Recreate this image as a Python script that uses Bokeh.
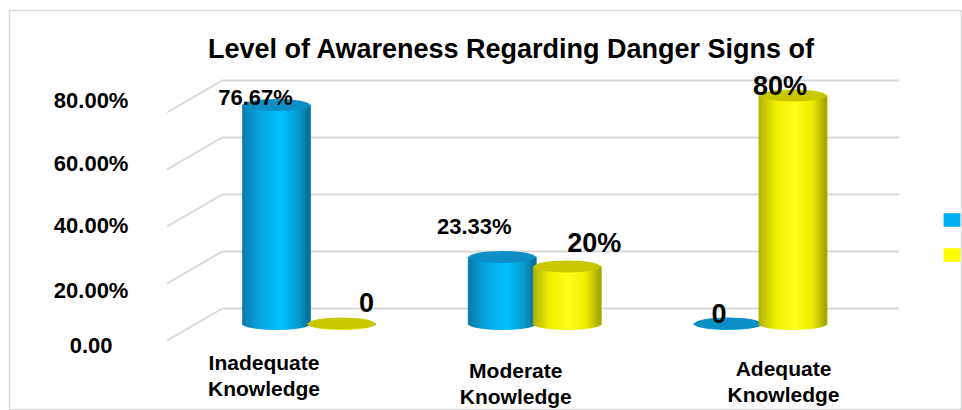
import numpy as np
from bokeh.plotting import figure
from bokeh.models import ColumnDataSource, Range1d, Legend, LegendItem, Label
from bokeh.core.properties import value
from bokeh.embed import file_html
from bokeh.resources import INLINE

# ---------------- data ----------------
categories = ["Inadequate Knowledge", "Moderate Knowledge", "Adequate Knowledge"]
category_lines = [["Inadequate", "Knowledge"], ["Moderate", "Knowledge"], ["Adequate", "Knowledge"]]
series_names = ["Pre-test", "Post-test"]
pre_values = [76.67, 23.33, 0.0]
post_values = [0.0, 20.0, 80.0]
pre_labels = ["76.67%", "23.33%", "0"]
post_labels = ["0", "20%", "80%"]
y_ticks = [0, 20, 40, 60, 80]
y_tick_labels = ["0.00", "20.00%", "40.00%", "60.00%", "80.00%"]
title_text = "Level of Awareness Regarding Danger Signs of"

# ---------------- layout / style ----------------
W, H = 962, 410
BL, BT = 9, 10                       # outer border offsets
PX_X = 225.75                        # px per category
PX_Y = 2.85                          # px per percent
CAT0_PX = 308.5                      # screen x of first category centre
ZERO_PX = 323                        # screen y of 0 on the bar plane
FW, FH = W - BL, H - BT

DXF, DYF = -29 / PX_X, -17 / PX_Y    # front plane offset
DXB, DYB = 26 / PX_X, 15 / PX_Y      # back wall offset
OFF = 32.5 / PX_X                    # series offset inside category
BW = 67 / PX_X                       # cylinder width
EH = 12 / PX_Y                       # ellipse height
NSTRIP = 34
FONT = "Liberation Sans"
GRID = "#d9d9d9"

blue_stops = [(0, "#0b78a9"), (0.2, "#0a9ed6"), (0.58, "#00c2ff"), (0.85, "#0a9acc"), (1, "#0a6c97")]
yellow_stops = [(0, "#b0b000"), (0.25, "#f0f000"), (0.55, "#ffff1a"), (0.8, "#ecec00"), (1, "#a4a400")]
cap_colors = ["#0c8fc6", "#c8c800"]
legend_colors = ["#00b0f0", "#ffff00"]

# label nudges (screen px)
pre_nudge = [(-21, -7), (-28, -31), (-9, -10)]
post_nudge = [(25, -21), (27, -24), (-13, -10)]
pre_sizes = ["22px", "22px", "27px"]
post_sizes = ["27px", "27px", "27px"]
cat_dx = [-45, -19, 23]
cat_dy = [22, 30, 28]
tick_dy = [5, 7, -1, -6, -12]


def hex2rgb(h):
    return np.array([int(h[i:i + 2], 16) for i in (1, 3, 5)], dtype=float)


def grad(stops, u):
    for (t0, c0), (t1, c1) in zip(stops[:-1], stops[1:]):
        if t0 <= u <= t1:
            f = (u - t0) / (t1 - t0)
            c = hex2rgb(c0) * (1 - f) + hex2rgb(c1) * f
            return "#%02x%02x%02x" % tuple(int(round(v)) for v in c)
    return stops[-1][1]


x_start = (BL - CAT0_PX) / PX_X
y_end = (ZERO_PX - BT) / PX_Y

p = figure(width=W, height=H, output_backend="svg", toolbar_location=None,
           x_range=Range1d(x_start, x_start + FW / PX_X),
           y_range=Range1d(y_end - FH / PX_Y, y_end),
           x_axis_location=None, y_axis_location=None,
           min_border_left=BL, min_border_top=BT, min_border_right=0, min_border_bottom=0)
p.xgrid.visible = False
p.ygrid.visible = False
p.outline_line_color = GRID
p.outline_line_width = 1.5
p.background_fill_color = "white"
p.border_fill_color = "white"

# ---------------- walls / gridlines ----------------
xL, xR = -0.5, len(categories) - 0.5
back_xs = [[xL + DXB, xR + DXB] for t in y_ticks]
back_ys = [[t + DYB, t + DYB] for t in y_ticks]
side_xs = [[xL + DXF, xL + DXB] for t in y_ticks]
side_ys = [[t + DYF, t + DYB] for t in y_ticks]
p.multi_line(back_xs + side_xs, back_ys + side_ys, line_color=GRID, line_width=2)

# ---------------- cylinders ----------------
legend_renderers = []
for s, (vals, stops, cap, sign) in enumerate([(pre_values, blue_stops, cap_colors[0], -1),
                                              (post_values, yellow_stops, cap_colors[1], 1)]):
    sx, bot, top, col = [], [], [], []
    cx = []
    for i, v in enumerate(vals):
        c = i + sign * OFF
        cx.append(c)
        for k in range(NSTRIP):
            u = (k + 0.5) / NSTRIP
            sx.append(c - BW / 2 + u * BW)
            bot.append(-(EH / 2) * np.sqrt(max(0.0, 1 - (2 * u - 1) ** 2)))
            top.append(v)
            col.append(grad(stops, u))
    src = ColumnDataSource(dict(x=sx, bottom=bot, top=top, color=col))
    p.vbar(x="x", bottom="bottom", top="top", width=BW / NSTRIP * 1.6, source=src,
           fill_color="color", line_color="color", line_width=0.6)
    p.ellipse(x=cx, y=vals, width=BW, height=EH, fill_color=cap, line_color=None)
    # zero-width series renderer that only feeds the legend swatch
    legend_renderers.append(p.vbar(x=cx, top=vals, width=0, fill_color=legend_colors[s],
                                   line_color=None))

# ---------------- data labels ----------------
lx, ly, lt, ldx, ldy, lsz = [], [], [], [], [], []
for vals, labels, nudge, sizes, sign in [(pre_values, pre_labels, pre_nudge, pre_sizes, -1),
                                         (post_values, post_labels, post_nudge, post_sizes, 1)]:
    for i, v in enumerate(vals):
        lx.append(i + sign * OFF)
        ly.append(v)
        lt.append(labels[i])
        ldx.append(nudge[i][0])
        ldy.append(nudge[i][1])
        lsz.append(sizes[i])
p.text(x="x", y="y", text="t", x_offset="dx", y_offset="dy", text_font_size="sz",
       source=ColumnDataSource(dict(x=lx, y=ly, t=lt, dx=ldx, dy=ldy, sz=lsz)),
       text_font=value(FONT), text_font_style="bold", text_color="black",
       text_align="center", text_baseline="middle")

# ---------------- y tick labels ----------------
p.text(x=[xL + DXF] * len(y_ticks), y=[t + DYF for t in y_ticks], text=y_tick_labels,
       x_offset=-76, y_offset=tick_dy, text_font=value(FONT), text_font_style="bold",
       text_font_size="22px", text_color="black", text_align="center", text_baseline="middle")

# ---------------- category labels ----------------
cx_, cy_, ct_, cdx_, cdy_ = [], [], [], [], []
for i, lines in enumerate(category_lines):
    for j, line in enumerate(lines):
        cx_.append(i)
        cy_.append(DYF)
        ct_.append(line)
        cdx_.append(cat_dx[i])
        cdy_.append(cat_dy[i] + 26 * j)
p.text(x="x", y="y", text="t", x_offset="dx", y_offset="dy",
       source=ColumnDataSource(dict(x=cx_, y=cy_, t=ct_, dx=cdx_, dy=cdy_)),
       text_font=value(FONT), text_font_style="bold", text_font_size="21px",
       text_color="black", text_align="center", text_baseline="middle")

# ---------------- title ----------------
p.add_layout(Label(x=511 - BL, y=H - 48, x_units="screen", y_units="screen", text=title_text,
                   text_align="center", text_baseline="alphabetic", text_font=FONT,
                   text_font_style="bold", text_font_size="27px", text_color="black"))

# ---------------- legend (labels fall outside the picture) ----------------
legend = Legend(items=[LegendItem(label=" ", renderers=[r]) for r in legend_renderers],
                location=(932, 147), glyph_width=21, glyph_height=17, spacing=18,
                label_width=0, label_height=13, label_standoff=0, label_text_font_size="8px",
                padding=0, margin=0, border_line_color=None, background_fill_alpha=0)
p.add_layout(legend)

open("out.html", "w").write(file_html(p, INLINE))
